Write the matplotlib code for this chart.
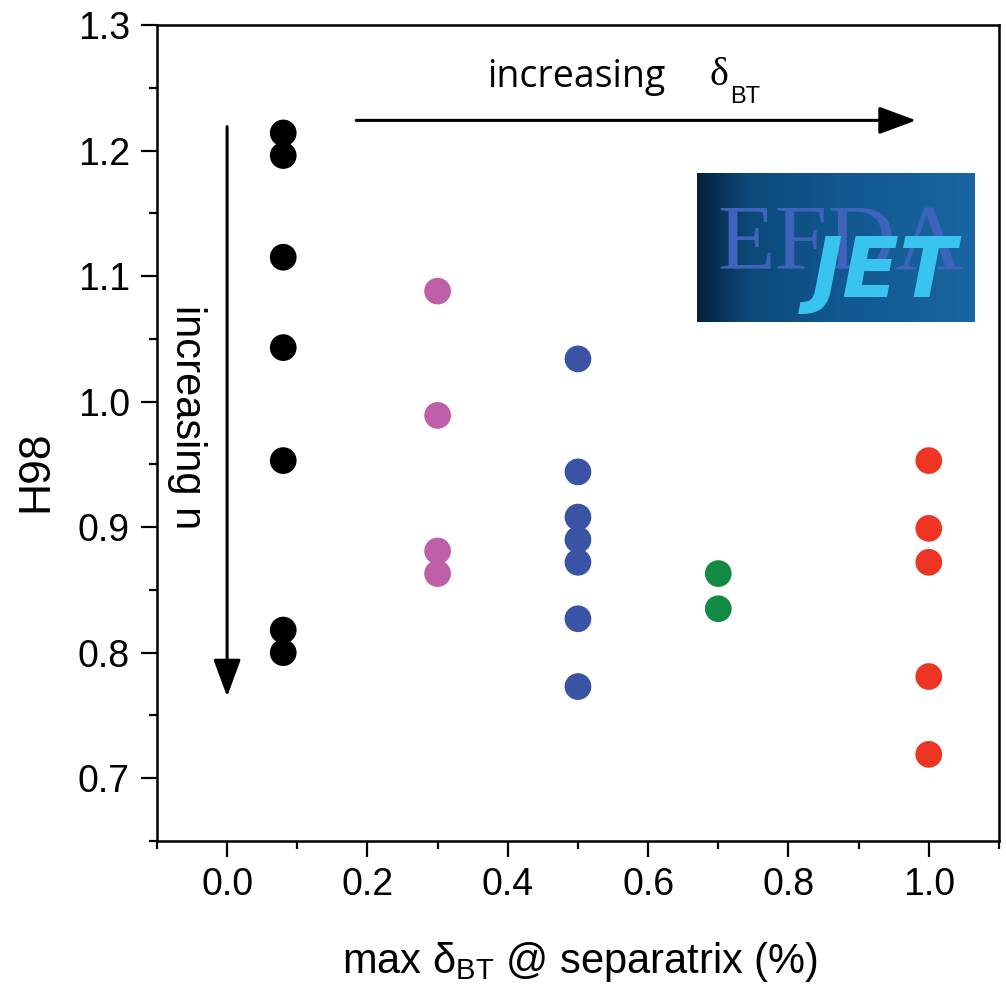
import numpy as np
import matplotlib
matplotlib.use("Agg")
import matplotlib.pyplot as plt
from matplotlib.ticker import MultipleLocator
from matplotlib.colors import LinearSegmentedColormap

# ── DATOS ─────────────────────────────────────────
x_black = [0.08] * 7
h_black = [1.214, 1.196, 1.115, 1.043, 0.953, 0.818, 0.800]
x_pink = [0.30] * 4
h_pink = [1.088, 0.989, 0.881, 0.863]
x_blue = [0.50] * 7
h_blue = [1.034, 0.944, 0.908, 0.890, 0.872, 0.827, 0.773]
x_green = [0.70] * 2
h_green = [0.863, 0.835]
x_red = [1.00] * 5
h_red = [0.953, 0.899, 0.872, 0.781, 0.719]

xticks = [0.0, 0.2, 0.4, 0.6, 0.8, 1.0]
yticks = [0.7, 0.8, 0.9, 1.0, 1.1, 1.2, 1.3]

series = [
    (x_black, h_black, "#000000"),
    (x_pink, h_pink, "#BE5FA8"),
    (x_blue, h_blue, "#3A53A4"),
    (x_green, h_green, "#138A43"),
    (x_red, h_red, "#EE3524"),
]

arial = ["Liberation Sans", "DejaVu Sans"]

fig = plt.figure(figsize=(10.06, 9.91), dpi=100)
ax = fig.add_axes([0.156, 0.1514, 0.837, 0.8234])

for xs, ys, c in series:
    ax.scatter(xs, ys, s=370, color=c, edgecolors="none", zorder=3)

ax.set_xlim(-0.1, 1.1)
ax.set_ylim(0.65, 1.3)
ax.set_xticks(xticks)
ax.set_xticklabels([f"{v:.1f}" for v in xticks])
ax.set_yticks(yticks)
ax.set_yticklabels([f"{v:.1f}" for v in yticks])
ax.xaxis.set_minor_locator(MultipleLocator(0.1))
ax.yaxis.set_minor_locator(MultipleLocator(0.05))

for sp in ax.spines.values():
    sp.set_linewidth(1.8)
ax.tick_params(which="major", direction="out", length=11.5, width=1.6, labelsize=27)
ax.tick_params(axis="x", which="major", pad=7)
ax.tick_params(axis="y", which="major", pad=8)
ax.tick_params(which="minor", direction="out", length=6, width=1.6)
ax.tick_params(top=False, right=False, which="both")
for lab in ax.get_xticklabels() + ax.get_yticklabels():
    lab.set_family(arial)

# etiquetas de ejes
ax.set_ylabel("H98", fontsize=32, family=arial)
ax.yaxis.label.set_va("center")
ax.yaxis.set_label_coords(-0.144, 0.453)
ax.set_xlabel(r"max $\mathregular{δ_{BT}}$ @ separatrix (%)", fontsize=30, family=arial)
ax.xaxis.set_label_coords(0.502, -0.162)
ax.xaxis.label.set_va("baseline")

# flechas
estilo = "-|>,head_length=2.3,head_width=0.85"
ax.annotate("", xy=(0.0, 0.765), xytext=(0.0, 1.219),
            arrowprops=dict(arrowstyle=estilo, mutation_scale=10,
                            color="black", lw=2.2, shrinkA=0, shrinkB=0))
ax.annotate("", xy=(0.982, 1.224), xytext=(0.184, 1.224),
            arrowprops=dict(arrowstyle=estilo, mutation_scale=10,
                            color="black", lw=2.2, shrinkA=0, shrinkB=0))

ax.text(-0.057, 0.988, "increasing n", rotation=270, fontsize=30,
        family=arial, ha="center", va="center")
ax.text(0.497, 1.2505, "increasing", fontsize=27, family=["Open Sans", "DejaVu Sans"],
        ha="center", va="baseline")
ax.text(0.687, 1.2521, "δ", fontsize=29, family=["Liberation Serif", "DejaVu Serif"],
        ha="left", va="baseline")
ax.text(0.7165, 1.2378, "BT", fontsize=17, family=arial, ha="left", va="baseline")

# logo EFDA JET
logo = fig.add_axes([697 / 1006, 1 - 322 / 991, 278 / 1006, 149 / 991])
grad = np.linspace(0, 1, 256).reshape(1, -1)
cmap = LinearSegmentedColormap.from_list(
    "jet_logo", [(0, "#05203C"), (0.18, "#0D4878"), (0.5, "#115790"), (1, "#1966A2")])
logo.imshow(grad, aspect="auto", cmap=cmap, extent=[0, 1, 0, 1])
logo.set_xlim(0, 1)
logo.set_ylim(0, 1)
logo.axis("off")
logo.text(0.518, 0.349, "EFDA", fontsize=68, family=["Liberation Serif", "DejaVu Serif"],
          color="#3D63BA", ha="center", va="baseline")
logo.text(0.673, 0.168, "JET", fontsize=60, family=["DejaVu Sans"],
          fontweight="bold", fontstyle="oblique", color="#38C4EE",
          ha="center", va="baseline")

plt.savefig("out.png", dpi=100)
